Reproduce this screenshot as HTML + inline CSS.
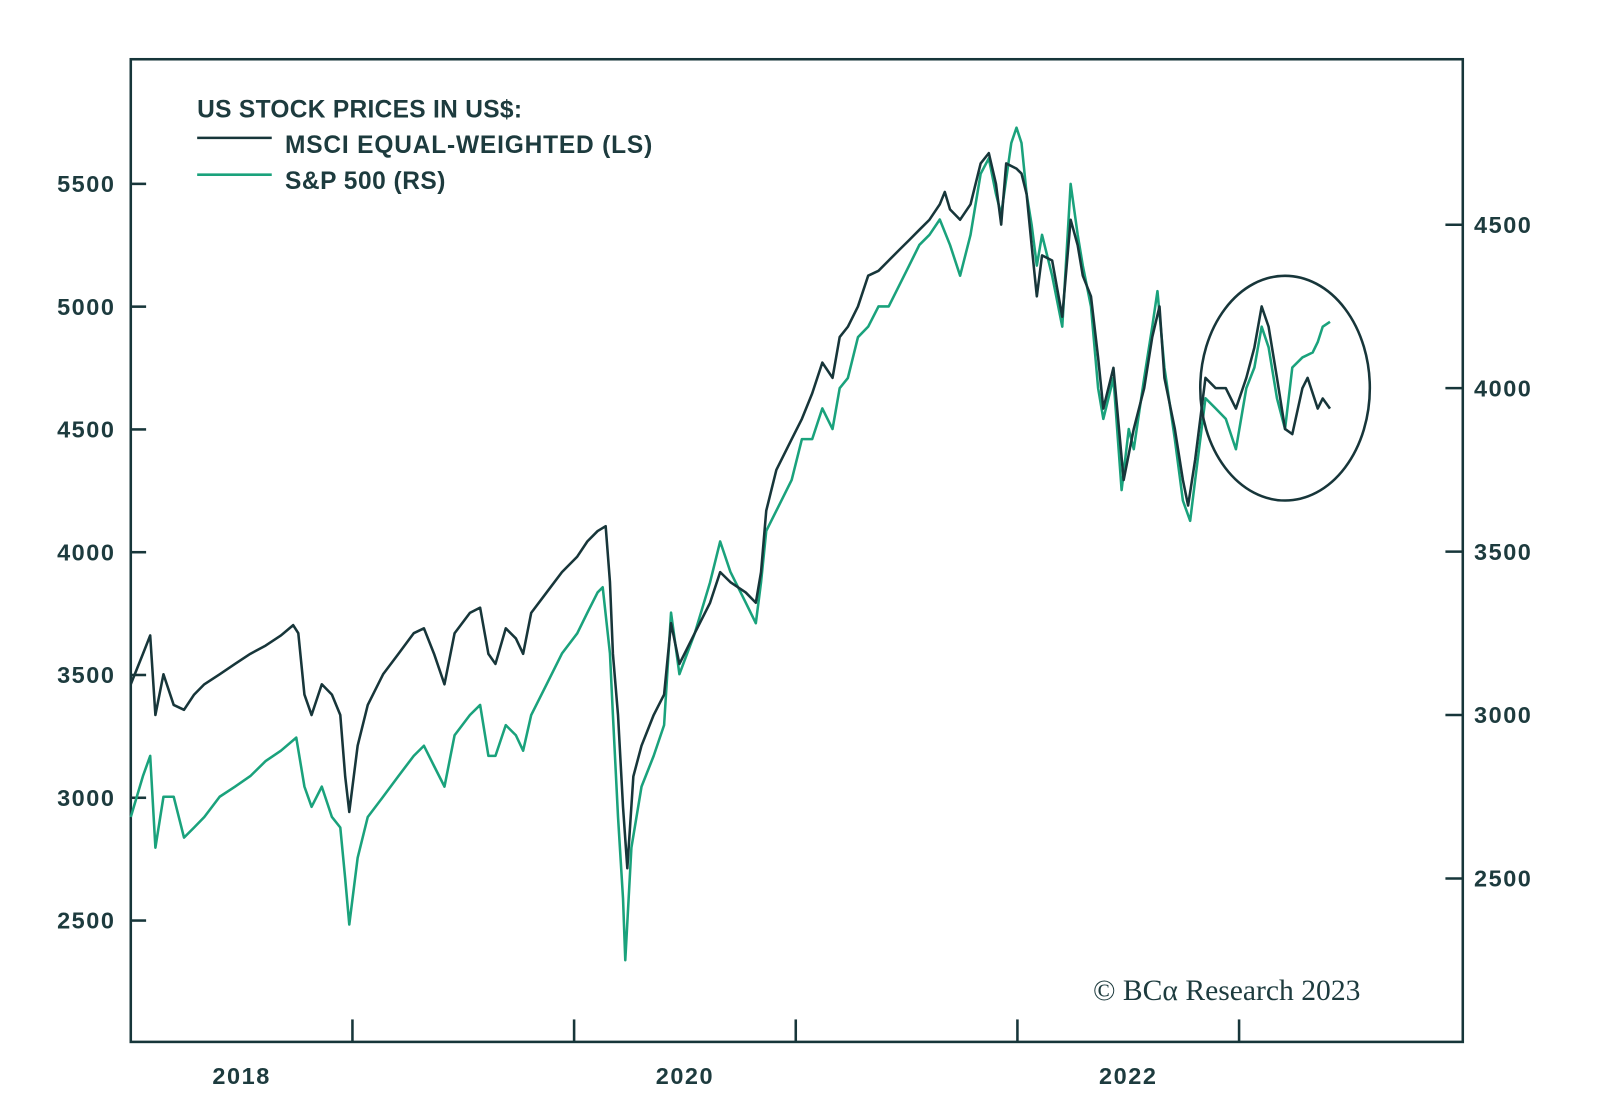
<!DOCTYPE html>
<html><head><meta charset="utf-8"><style>
html,body{margin:0;padding:0;background:#fff;width:1600px;height:1118px;overflow:hidden}
svg{display:block}
text{font-family:"Liberation Sans",sans-serif;font-weight:bold;fill:#1d3b3e}
</style></head><body>
<svg id="chart" width="1600" height="1118" viewBox="0 0 1566.3 1094.5" xmlns="http://www.w3.org/2000/svg">
<g id="axes"></g>
<g id="series"></g>
<g>
<text x="193" y="115" font-size="24" letter-spacing="0.3">US STOCK PRICES IN US$:</text>
<line x1="193" y1="135" x2="266" y2="135" stroke="#17363a" stroke-width="2.5"/>
<text x="279" y="150" font-size="24" letter-spacing="0.8">MSCI EQUAL-WEIGHTED (LS)</text>
<line x1="193" y1="171" x2="266" y2="171" stroke="#1aa27c" stroke-width="2.5"/>
<text x="279" y="185" font-size="24" letter-spacing="0.5">S&amp;P 500 (RS)</text>
</g>
<ellipse cx="1258" cy="380" rx="83" ry="110" fill="none" stroke="#17363a" stroke-width="2.5"/>
<text x="1070" y="979" font-size="29" style="font-family:'Liberation Serif',serif;font-weight:normal">© BCα Research 2023</text>
</svg>
<script>
const NS="http://www.w3.org/2000/svg";
const msciMonths=[0,0.66,1.05,1.33,1.77,2.32,2.88,3.43,3.98,4.81,5.64,6.47,7.30,8.13,8.79,9.07,9.40,9.79,10.34,10.89,11.34,11.61,11.83,12.28,12.83,13.66,14.49,15.32,15.87,16.42,16.98,17.53,18.36,18.91,19.36,19.74,20.30,20.85,21.24,21.68,22.51,23.34,24.17,24.72,25.27,25.71,25.94,26.10,26.38,26.65,26.88,27.21,27.65,28.31,28.87,29.25,29.70,30.53,31.36,31.91,32.46,33.29,33.84,34.12,34.40,34.95,35.78,36.33,36.89,37.44,37.99,38.38,38.82,39.37,39.92,40.48,41.03,41.59,42.14,42.69,43.24,43.80,44.07,44.35,44.90,45.46,46.01,46.45,46.84,47.12,47.39,47.95,48.22,48.50,48.77,49.05,49.33,49.88,50.43,50.88,51.26,51.54,51.98,52.37,52.65,53.20,53.75,54.30,54.86,55.30,55.69,55.96,56.52,56.96,57.24,57.62,58.18,58.73,59.28,59.83,60.39,60.83,61.22,61.60,62.05,62.49,62.88,63.43,63.71,64.26,64.53,64.92];
const msciValues=[3462,3586,3661,3337,3503,3378,3358,3420,3462,3503,3545,3586,3620,3661,3703,3670,3420,3337,3462,3420,3337,3087,2942,3212,3378,3503,3586,3670,3690,3586,3462,3670,3753,3774,3586,3545,3690,3649,3586,3753,3836,3919,3982,4044,4086,4106,3878,3586,3337,2962,2713,3087,3212,3337,3420,3711,3545,3670,3794,3919,3878,3836,3794,3919,4169,4335,4460,4543,4647,4772,4710,4876,4918,5001,5126,5146,5188,5230,5271,5313,5354,5417,5467,5396,5354,5417,5583,5625,5500,5334,5583,5562,5542,5458,5250,5042,5209,5188,4959,5354,5250,5126,5042,4793,4585,4751,4294,4502,4668,4876,5001,4710,4502,4294,4190,4377,4710,4668,4668,4585,4710,4834,5001,4918,4710,4502,4481,4668,4710,4585,4626,4585];
const spMonths=[0,0.66,1.05,1.33,1.77,2.32,2.88,3.43,3.98,4.81,5.64,6.47,7.30,8.13,8.96,9.40,9.79,10.34,10.89,11.34,11.61,11.83,12.28,12.83,13.66,14.49,15.32,15.87,16.42,16.98,17.53,18.36,18.91,19.36,19.74,20.30,20.85,21.24,21.68,22.51,23.34,24.17,24.72,25.27,25.55,25.94,26.10,26.38,26.65,26.77,27.10,27.65,28.31,28.87,29.25,29.70,30.53,31.36,31.91,32.46,33.29,33.84,34.12,34.40,34.95,35.78,36.33,36.89,37.44,37.99,38.38,38.82,39.37,39.92,40.48,41.03,41.59,42.14,42.69,43.24,43.80,44.35,44.90,45.46,46.01,46.45,46.84,47.12,47.67,47.95,48.22,48.50,48.77,49.05,49.33,49.88,50.43,50.88,51.26,51.54,51.98,52.37,52.65,53.20,53.64,54.03,54.30,54.86,55.30,55.58,55.96,56.52,56.96,57.35,57.62,58.18,58.73,59.28,59.83,60.39,60.83,61.22,61.60,62.05,62.49,62.88,63.43,63.98,64.26,64.53,64.92];
const spValues=[2688,2813,2875,2594,2750,2750,2625,2656,2688,2750,2781,2813,2859,2891,2931,2781,2719,2781,2688,2656,2500,2359,2563,2688,2750,2813,2875,2906,2844,2781,2938,3000,3031,2875,2875,2969,2938,2891,3000,3094,3188,3250,3313,3375,3391,3188,3000,2688,2438,2250,2594,2781,2875,2969,3313,3125,3250,3406,3531,3438,3344,3281,3406,3563,3625,3719,3844,3844,3938,3875,4000,4031,4156,4188,4250,4250,4313,4375,4438,4469,4516,4438,4344,4469,4656,4703,4594,4531,4750,4797,4750,4594,4500,4375,4469,4344,4188,4625,4469,4375,4250,4000,3906,4031,3688,3875,3813,4031,4188,4297,4063,3844,3656,3594,3719,3969,3938,3906,3813,4000,4063,4188,4125,3969,3875,4063,4094,4109,4141,4188,4203];
const leftTicks=[2500,3000,3500,4000,4500,5000,5500];
const rightTicks=[2500,3000,3500,4000,4500];
const yearLabels=["2018","2020","2022"];
const yearLabelMonths=[6,30,54];
const yearTickMonths=[12,24,36,48,60];

const L=128,R=1432,T=58,B=1020;
const xS=m=>L+m*(217/12);
const yL=v=>180+(5500-v)/500*120.2;
const yR=v=>220+(4500-v)/500*160;
const ax=document.getElementById('axes'), se=document.getElementById('series');
function mk(tag,attrs,parent){const e=document.createElementNS(NS,tag);for(const k in attrs)e.setAttribute(k,attrs[k]);parent.appendChild(e);return e;}
const C="#17363a";
const frame=mk('rect',{x:L,y:T,width:R-L,height:B-T,fill:'none',stroke:C,'stroke-width':2.5},ax);


leftTicks.forEach(v=>{
  const y=yL(v);
  const t=mk('line',{x1:L,x2:L+15,y1:y,y2:y,stroke:C,'stroke-width':2.5},ax);
  
  
  const tx=mk('text',{x:113,y:y+8,'text-anchor':'end','font-size':23,'letter-spacing':1.5},ax);
  tx.textContent=v;
  
  
});
rightTicks.forEach(v=>{
  const y=yR(v);
  const t=mk('line',{x1:R-17,x2:R,y1:y,y2:y,stroke:C,'stroke-width':2.5},ax);
  
  
  const tx=mk('text',{x:1443,y:y+8,'font-size':23,'letter-spacing':1.5},ax);
  tx.textContent=v;
  
  
});
yearTickMonths.forEach(m=>{
  const x=xS(m);
  const t=mk('line',{x1:x,x2:x,y1:B-22,y2:B,stroke:C,'stroke-width':2.5},ax);
  
  
});
yearLabels.forEach((s,i)=>{
  const tx=mk('text',{x:xS(yearLabelMonths[i]),y:1061,'text-anchor':'middle','font-size':23,'letter-spacing':1.5},ax);
  tx.textContent=s;
  
  
});
function line(ms,vs,ys,color){
  let d='';ms.forEach((m,i)=>{d+=(i?'L':'M')+xS(m).toFixed(1)+','+ys(vs[i]).toFixed(1);});
  return mk('path',{d:d,fill:'none',stroke:color,'stroke-width':2.5,'stroke-linejoin':'round'},se);
}
const p2=line(spMonths,spValues,yR,'#1aa27c');


const p1=line(msciMonths,msciValues,yL,'#17363a');


</script>
</body></html>
